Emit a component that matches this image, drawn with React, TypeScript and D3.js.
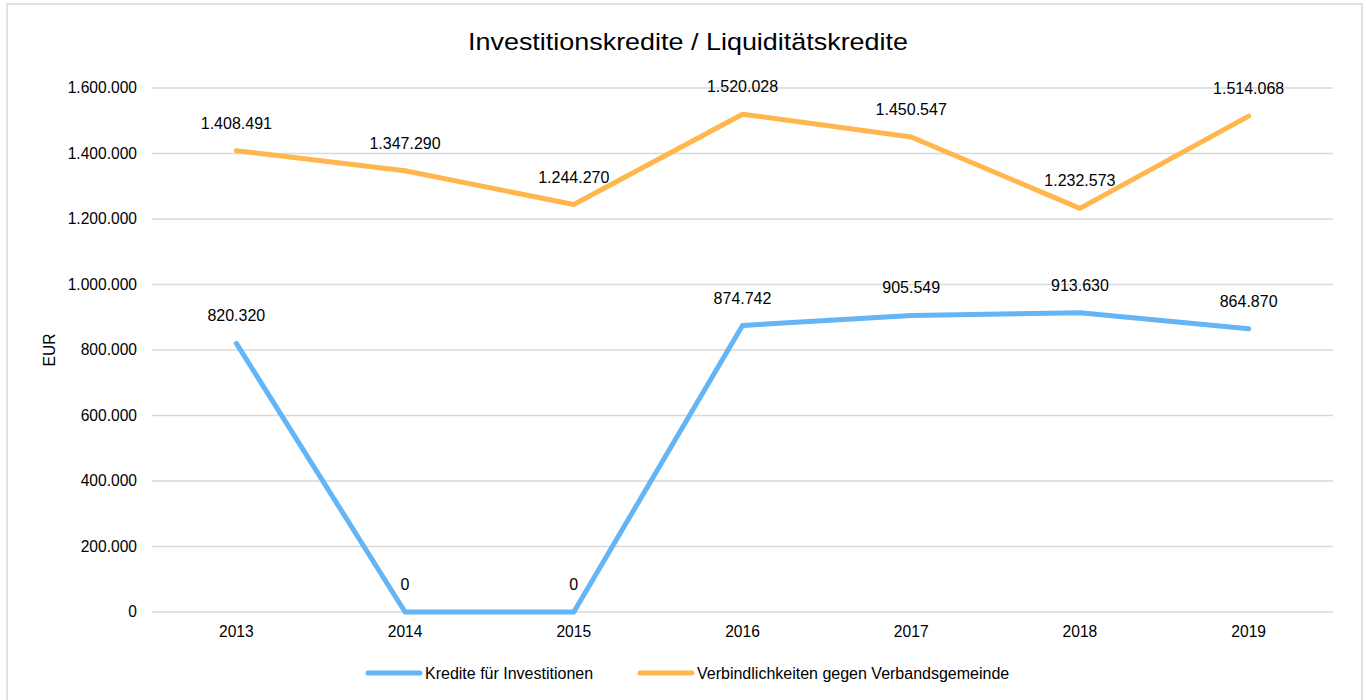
import React from "react";
import * as d3 from "d3";

const years = ["2013", "2014", "2015", "2016", "2017", "2018", "2019"];
const krediteInvest = [820320, 0, 0, 874742, 905549, 913630, 864870];
const verbindlichkeiten = [1408491, 1347290, 1244270, 1520028, 1450547, 1232573, 1514068];
const yTicks = [0, 200000, 400000, 600000, 800000, 1000000, 1200000, 1400000, 1600000];
const seriesNames = ["Kredite für Investitionen", "Verbindlichkeiten gegen Verbandsgemeinde"];
const title = "Investitionskredite / Liquiditätskredite";
const yAxisLabel = "EUR";

const W = 1366;
const H = 700;
const FONT = "'Liberation Sans', Arial, sans-serif";
const BLUE = "#64B5F6";
const ORANGE = "#FFB74D";

const fmt = (v: number) => {
  const s = Math.round(v).toString();
  return s.replace(/\B(?=(\d{3})+(?!\d))/g, ".");
};

export default function App() {
  const left = 152;
  const right = 1333;
  const top = 88;
  const bottom = 612;

  const x = d3.scaleBand<string>().domain(years).range([left, right]).padding(0);
  const y = d3.scaleLinear().domain([0, 1600000]).range([bottom, top]);
  const cx = (d: string) => (x(d) as number) + x.bandwidth() / 2;

  const line = d3
    .line<number>()
    .x((_, i) => cx(years[i]))
    .y((v) => y(v));

  const series = [
    { name: seriesNames[0], values: krediteInvest, color: BLUE },
    { name: seriesNames[1], values: verbindlichkeiten, color: ORANGE },
  ];

  return (
    <svg
      width={W}
      height={H}
      style={{ position: "absolute", left: 0, top: 0, background: "#fff" }}
      fontFamily={FONT}
    >
      <rect x={7} y={4} width={1355} height={720} fill="#fff" stroke="#d9d9d9" strokeWidth={1.5} />
      <text
        x={688}
        y={49.5}
        textAnchor="middle"
        fontSize={24.5}
        fill="#000"
        textLength={440}
        lengthAdjust="spacingAndGlyphs"
      >
        {title}
      </text>
      {yTicks.map((t) => (
        <g key={t}>
          <line x1={left} x2={right} y1={y(t)} y2={y(t)} stroke="#d9d9d9" strokeWidth={1.5} />
          <text x={137} y={y(t)} dy="0.35em" textAnchor="end" fontSize={15.6} fill="#000">
            {fmt(t)}
          </text>
        </g>
      ))}
      {years.map((yr) => (
        <text key={yr} x={cx(yr)} y={637} textAnchor="middle" fontSize={15.6} fill="#000">
          {yr}
        </text>
      ))}
      <text
        transform={`translate(55,${(top + bottom) / 2}) rotate(-90)`}
        textAnchor="middle"
        fontSize={15.6}
        fill="#000"
      >
        {yAxisLabel}
      </text>
      {series.map((s) => (
        <path
          key={s.name}
          d={line(s.values) as string}
          fill="none"
          stroke={s.color}
          strokeWidth={5}
          strokeLinejoin="round"
          strokeLinecap="round"
        />
      ))}
      {series.map((s) =>
        s.values.map((v, i) => (
          <text
            key={s.name + i}
            x={cx(years[i])}
            y={y(v) - 22}
            textAnchor="middle"
            fontSize={16}
            fill="#000"
          >
            {fmt(v)}
          </text>
        ))
      )}
      <g>
        <line x1={368} x2={420} y1={673} y2={673} stroke={BLUE} strokeWidth={5} strokeLinecap="round" />
        <text x={425} y={673} dy="0.35em" fontSize={16} fill="#000">
          {seriesNames[0]}
        </text>
        <line x1={640} x2={692} y1={673} y2={673} stroke={ORANGE} strokeWidth={5} strokeLinecap="round" />
        <text x={697} y={673} dy="0.35em" fontSize={16} fill="#000">
          {seriesNames[1]}
        </text>
      </g>
    </svg>
  );
}
